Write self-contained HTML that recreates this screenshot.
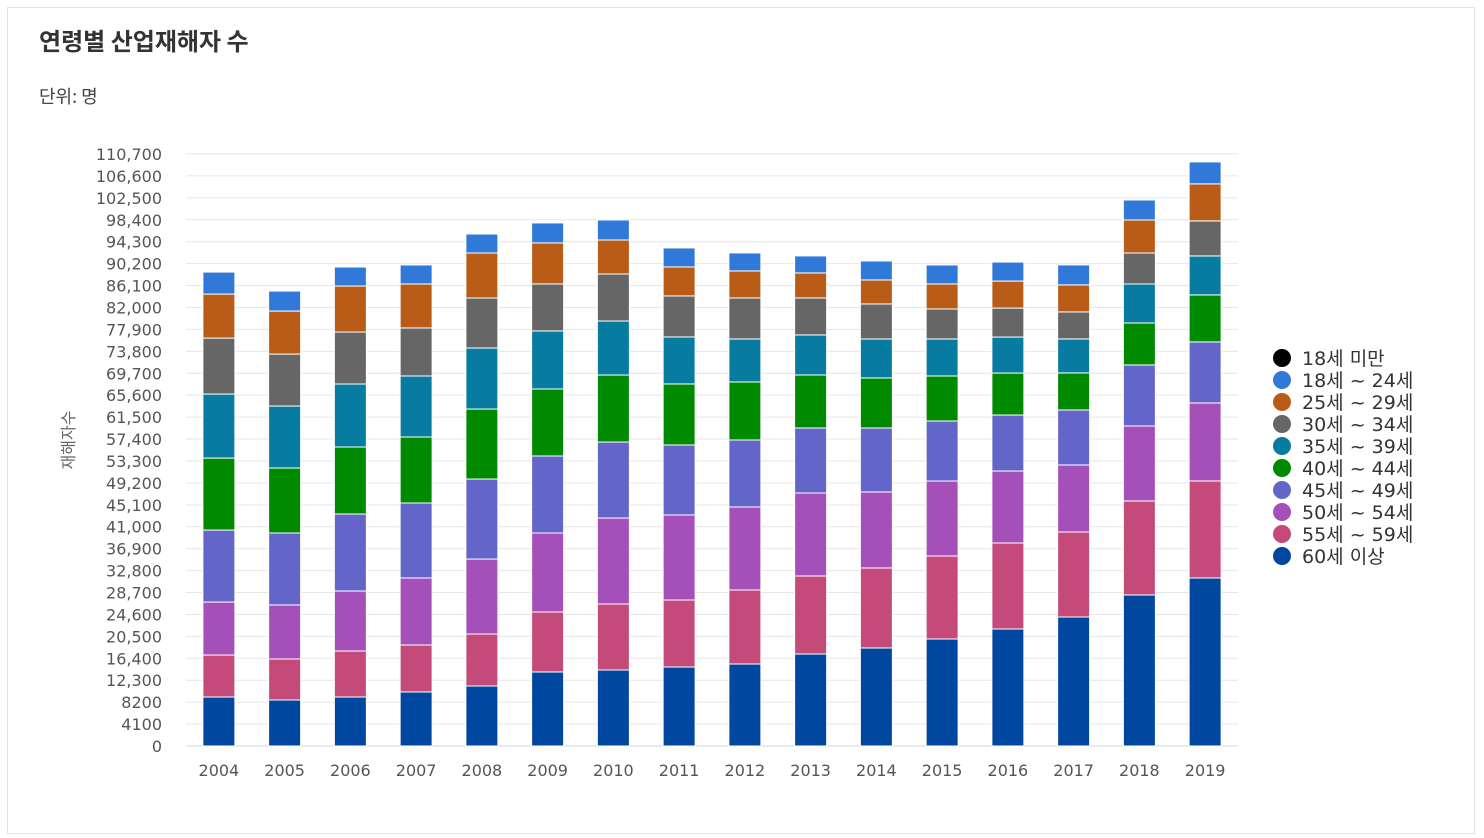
<!DOCTYPE html>
<html><head><meta charset="utf-8"><style>
html,body{margin:0;padding:0;background:#fff;}
body{width:1484px;height:838px;overflow:hidden;position:relative;font-family:"DejaVu Sans","Noto Sans CJK KR",sans-serif;}
.frame{position:absolute;left:7px;top:7px;width:1466px;height:825px;border:1px solid #e3e3e3;}
.title{position:absolute;left:39px;top:22px;font-size:24px;font-weight:bold;color:#333;font-family:"Noto Sans CJK KR",sans-serif;}
.unit{position:absolute;left:39px;top:83px;font-size:18px;color:#444;font-family:"Noto Sans CJK KR",sans-serif;}
</style></head><body>
<div class="frame"></div>
<div class="title">연령별 산업재해자 수</div>
<div class="unit">단위: 명</div>
<svg id="chart" width="1484" height="838" style="position:absolute;left:0;top:0"></svg>
<script>
const years=["2004","2005","2006","2007","2008","2009","2010","2011","2012","2013","2014","2015","2016","2017","2018","2019"];
const seriesNames=["60세 이상","55세 ~ 59세","50세 ~ 54세","45세 ~ 49세","40세 ~ 44세","35세 ~ 39세","30세 ~ 34세","25세 ~ 29세","18세 ~ 24세","18세 미만"];
const seriesColors=["#00479f","#c44a7a","#a550b8","#6366c8","#008a00","#087ca0","#666666","#b85c17","#3079d8","#000000"];
const s60=[9160,8600,9160,10100,11220,13840,14210,14770,15330,17200,18330,20010,21880,24120,28240,31420];
const s55=[7850,7670,8600,8790,9720,11220,12340,12530,13840,14590,14960,15520,16080,15900,17580,18140];
const s50=[9910,10100,11220,12530,14020,14770,16080,15900,15520,15520,14210,14020,13460,12530,14020,14590];
const s45=[13460,13460,14400,14020,14960,14400,14210,13090,12530,12160,11970,11220,10470,10290,11410,11410];
const s40=[13460,12150,12530,12340,13090,12530,12530,11410,10850,9910,9350,8420,7850,6920,7850,8790];
const s35=[11970,11590,11780,11410,11410,10850,10100,8790,8040,7480,7290,6920,6730,6360,7290,7290];
const s30=[10470,9720,9720,8980,9350,8790,8790,7670,7670,6920,6550,5610,5420,5050,5800,6550];
const s25=[8230,8040,8600,8230,8420,7670,6360,5420,5050,4680,4490,4680,5050,5050,6170,6920];
const s18=[4110,3740,3550,3550,3550,3740,3740,3550,3370,3180,3550,3550,3550,3740,3740,4110];
const sU18=[0,0,0,0,0,0,0,0,0,0,0,0,0,0,0,0];
const yTicks=[0,4100,8200,12300,16400,20500,24600,28700,32800,36900,41000,45100,49200,53300,57400,61500,65600,69700,73800,77900,82000,86100,90200,94300,98400,102500,106600,110700];
const series=[s60,s55,s50,s45,s40,s35,s30,s25,s18,sU18];

const svg=document.getElementById('chart');const NS='http://www.w3.org/2000/svg';
const X0=186,X1=1238,Y0=746,Y1=154,YMAX=110700;
const yS=v=>Y0-(v/YMAX)*(Y0-Y1);
const band=(X1-X0)/years.length;
const xC=i=>X0+band*(i+0.5);
const BW=32;
function mk(t,a){const e=document.createElementNS(NS,t);for(const k in a)e.setAttribute(k,a[k]);svg.appendChild(e);return e;}
yTicks.forEach((t,i)=>{
  const l=mk('line',{x1:X0,x2:X1,y1:yS(t),y2:yS(t),stroke:i==0?'#ccd6eb':'#e6e6e6','stroke-width':1});
  
  
  const tx=mk('text',{x:162,y:yS(t)+6,'text-anchor':'end','font-size':16,fill:'#555'});
  tx.textContent=t>=10000?t.toLocaleString('en-US'):String(t);
  
  
});
const yt=mk('text',{x:0,y:0,transform:'translate(74,440) rotate(-90)','text-anchor':'middle','font-size':16,fill:'#666','font-family':'"Noto Sans CJK KR",sans-serif'});
yt.textContent='재해자수';


years.forEach((y,i)=>{
  let acc=0;
  series.forEach((s,si)=>{
    const v=s[i];if(v<=0){return;}
    const yt=yS(acc+v),yb=yS(acc);acc+=v;
    const r=mk('rect',{x:xC(i)-BW/2,y:yt,width:BW,height:Math.max(0,yb-yt),fill:seriesColors[si],stroke:'#fff','stroke-width':1});
    
    
  });
  const t=mk('text',{x:xC(i),y:776,'text-anchor':'middle','font-size':16,fill:'#555'});
  t.textContent=y;
  
  
});
const legendOrder=[9,8,7,6,5,4,3,2,1,0];
legendOrder.forEach((si,k)=>{
  const cy=358+k*22;
  const c=mk('circle',{cx:1282,cy:cy,r:9,fill:seriesColors[si]});
  
  
  const t=mk('text',{x:1302,y:cy+7,'font-size':19,fill:'#333','font-family':'"DejaVu Sans","Noto Sans CJK KR",sans-serif'});
  t.textContent=seriesNames[si];
  
  
});
</script>
</body></html>
